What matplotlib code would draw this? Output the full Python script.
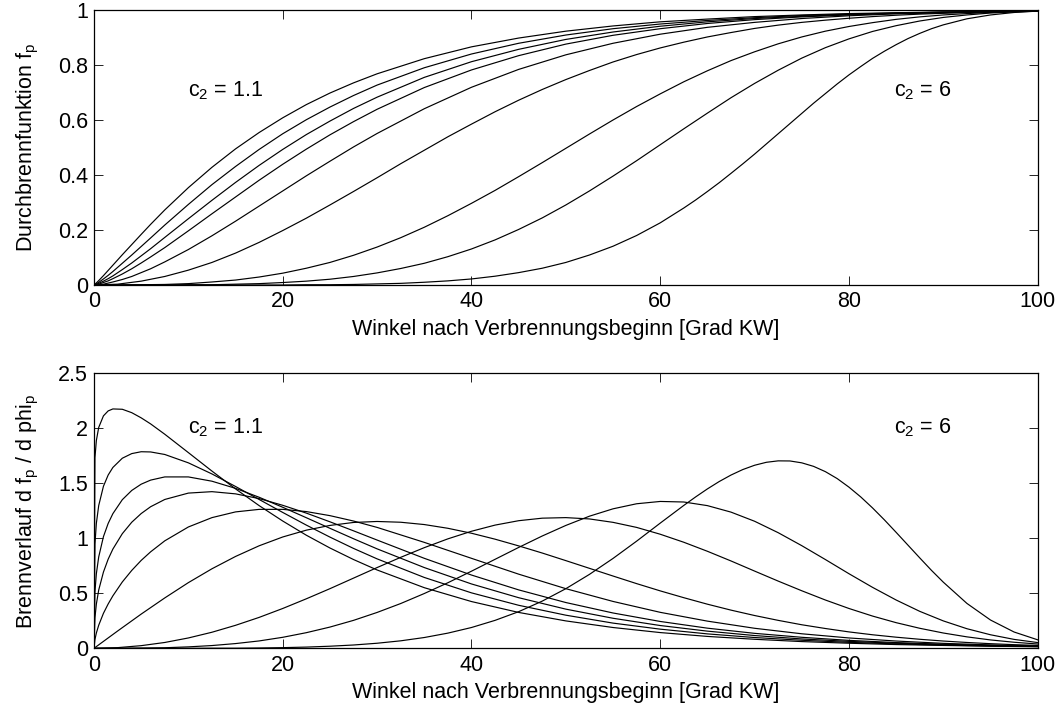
import matplotlib
matplotlib.use("Agg")
import matplotlib.pyplot as plt

plt.rcParams['font.family'] = ['Liberation Sans', 'DejaVu Sans']
plt.rcParams['mathtext.fontset'] = 'custom'
plt.rcParams['mathtext.rm'] = 'Liberation Sans'
plt.rcParams['mathtext.it'] = 'Liberation Sans'

FS = 15.5

# crank angle after start of combustion [deg CA]
# grid used for the flat-start exponents c2 = 1.1 ... 1.6
phi_a = [0, 0.1, 0.25, 0.5, 1, 1.5, 2, 3, 4, 5, 6, 7.5, 10, 12.5, 15, 17.5, 20, 22.5, 25,
         27.5, 30, 35, 40, 45, 50, 55, 60, 65, 70, 75, 80, 85, 90, 95, 100]
# grid used for c2 = 2 ... 4
phi_b = [0, 2.5, 5, 7.5, 10, 12.5, 15, 17.5, 20, 22.5, 25, 27.5, 30, 32.5, 35, 37.5, 40,
         42.5, 45, 47.5, 50, 52.5, 55, 57.5, 60, 62.5, 65, 67.5, 70, 72.5, 75, 77.5, 80,
         82.5, 85, 87.5, 90, 92.5, 95, 97.5, 100]
# grid used for c2 = 6 (denser around the peak)
phi_c6 = [0, 2.5, 5, 7.5, 10, 12.5, 15, 17.5, 20, 22.5, 25, 27.5, 30, 32.5, 35, 37.5, 40,
          42.5, 45, 47.5, 50, 52.5, 55, 57.5, 60, 62.5, 63.75, 65, 66.25, 67.5, 68.75, 70,
          71.25, 72.5, 73.75, 75, 76.25, 77.5, 78.75, 80, 81.25, 82.5, 83.75, 85, 86.25, 87.5,
          88.75, 90, 92.5, 95, 97.5, 100]

# mass fraction burned f_p
fp_c1_1 = [0, 0.003, 0.0075, 0.016, 0.034, 0.053, 0.072, 0.110, 0.147, 0.184, 0.2205, 0.273,
           0.354, 0.428, 0.495, 0.5545, 0.608, 0.656, 0.698, 0.735, 0.768, 0.823, 0.866, 0.898,
           0.923, 0.942, 0.957, 0.967, 0.976, 0.982, 0.987, 0.990, 0.993, 0.994, 0.996]
fp_c1_2 = [0, 0.001, 0.004, 0.0095, 0.022, 0.035, 0.049, 0.079, 0.109, 0.140, 0.171, 0.218,
           0.293, 0.365, 0.431, 0.493, 0.550, 0.601, 0.647, 0.689, 0.727, 0.790, 0.840, 0.879,
           0.909, 0.932, 0.949, 0.962, 0.972, 0.980, 0.985, 0.989, 0.992, 0.994, 0.996]
fp_c1_3 = [0, 0.001, 0.002, 0.006, 0.014, 0.023, 0.033, 0.056, 0.080, 0.106, 0.132, 0.173,
           0.241, 0.308, 0.373, 0.435, 0.493, 0.547, 0.596, 0.642, 0.683, 0.755, 0.812, 0.857,
           0.893, 0.920, 0.941, 0.957, 0.969, 0.977, 0.984, 0.988, 0.992, 0.994, 0.996]
fp_c1_4 = [0, 0.000, 0.001, 0.003, 0.009, 0.015, 0.023, 0.040, 0.059, 0.080, 0.102, 0.136,
           0.197, 0.259, 0.320, 0.381, 0.439, 0.494, 0.546, 0.594, 0.639, 0.718, 0.782, 0.834,
           0.876, 0.908, 0.932, 0.951, 0.965, 0.975, 0.982, 0.988, 0.991, 0.994, 0.996]
fp_c1_6 = [0, 0.000, 0.000, 0.001, 0.003, 0.007, 0.011, 0.020, 0.031, 0.045, 0.059, 0.084,
           0.129, 0.179, 0.232, 0.287, 0.342, 0.397, 0.450, 0.502, 0.551, 0.641, 0.719, 0.784,
           0.837, 0.879, 0.912, 0.937, 0.955, 0.969, 0.979, 0.986, 0.990, 0.994, 0.996]
fp_c2 = [0, 0.003, 0.014, 0.031, 0.054, 0.082, 0.116, 0.155, 0.198, 0.243, 0.291, 0.340, 0.390,
         0.441, 0.490, 0.539, 0.585, 0.630, 0.672, 0.711, 0.747, 0.780, 0.811, 0.838, 0.862,
         0.883, 0.902, 0.918, 0.933, 0.945, 0.955, 0.963, 0.970, 0.976, 0.981, 0.985, 0.988,
         0.991, 0.993, 0.995, 0.996]
fp_c3 = [0, 0.000, 0.001, 0.002, 0.005, 0.011, 0.018, 0.029, 0.043, 0.061, 0.082, 0.108, 0.138,
         0.172, 0.210, 0.252, 0.297, 0.344, 0.394, 0.445, 0.497, 0.549, 0.600, 0.649, 0.695,
         0.739, 0.779, 0.816, 0.848, 0.877, 0.902, 0.923, 0.940, 0.954, 0.966, 0.975, 0.982,
         0.987, 0.991, 0.994, 0.996]
fp_c4 = [0, 0, 0, 0, 0.001, 0.001, 0.003, 0.005, 0.009, 0.014, 0.021, 0.031, 0.044, 0.060,
         0.079, 0.103, 0.131, 0.164, 0.202, 0.244, 0.291, 0.342, 0.396, 0.452, 0.510, 0.568,
         0.625, 0.681, 0.733, 0.781, 0.825, 0.863, 0.895, 0.922, 0.943, 0.960, 0.973, 0.982,
         0.989, 0.993, 0.996]
fp_c6 = [0, 0, 0, 0, 0, 0, 0, 0, 0.000, 0.001, 0.001, 0.002, 0.004, 0.006, 0.010, 0.015, 0.022,
         0.032, 0.045, 0.061, 0.082, 0.109, 0.141, 0.180, 0.226, 0.280, 0.309, 0.340, 0.372,
         0.406, 0.4405, 0.476, 0.513, 0.550, 0.587, 0.624, 0.661, 0.696, 0.731, 0.764, 0.7945,
         0.824, 0.850, 0.874, 0.896, 0.915, 0.932, 0.946, 0.968, 0.982, 0.991, 0.996]

# burn rate d f_p / d phi_p
dfp_c1_1 = [0, 1.733, 1.889, 2.008, 2.113, 2.158, 2.176, 2.173, 2.142, 2.095, 2.040, 1.946,
            1.779, 1.611, 1.449, 1.297, 1.157, 1.028, 0.912, 0.807, 0.712, 0.551, 0.425, 0.326,
            0.249, 0.189, 0.143, 0.108, 0.082, 0.061, 0.046, 0.034, 0.026, 0.019, 0.014]
dfp_c1_2 = [0, 0.948, 1.136, 1.298, 1.473, 1.575, 1.644, 1.728, 1.770, 1.787, 1.785, 1.762,
            1.686, 1.585, 1.471, 1.353, 1.235, 1.120, 1.011, 0.908, 0.813, 0.644, 0.504, 0.391,
            0.301, 0.229, 0.174, 0.131, 0.098, 0.073, 0.054, 0.040, 0.029, 0.021, 0.016]
dfp_c1_3 = [0, 0.515, 0.678, 0.831, 1.015, 1.135, 1.224, 1.351, 1.435, 1.492, 1.529, 1.558,
            1.558, 1.519, 1.454, 1.373, 1.282, 1.187, 1.091, 0.996, 0.904, 0.734, 0.585, 0.460,
            0.356, 0.273, 0.207, 0.156, 0.116, 0.085, 0.063, 0.046, 0.033, 0.024, 0.017]
dfp_c1_4 = [0, 0.278, 0.402, 0.530, 0.693, 0.810, 0.902, 1.042, 1.146, 1.225, 1.287, 1.353,
            1.411, 1.424, 1.404, 1.361, 1.300, 1.229, 1.150, 1.068, 0.984, 0.818, 0.666, 0.531,
            0.416, 0.321, 0.244, 0.183, 0.136, 0.100, 0.072, 0.052, 0.037, 0.026, 0.018]
dfp_c1_6 = [0, 0.080, 0.139, 0.210, 0.318, 0.403, 0.477, 0.603, 0.708, 0.799, 0.877, 0.977,
            1.103, 1.188, 1.240, 1.263, 1.263, 1.243, 1.206, 1.157, 1.099, 0.963, 0.818, 0.674,
            0.542, 0.426, 0.327, 0.247, 0.182, 0.132, 0.094, 0.066, 0.045, 0.031, 0.021]
dfp_c2 = [0, 0.157, 0.311, 0.458, 0.597, 0.723, 0.835, 0.932, 1.012, 1.074, 1.117, 1.144, 1.153,
          1.146, 1.125, 1.091, 1.046, 0.992, 0.931, 0.866, 0.797, 0.727, 0.657, 0.588, 0.522,
          0.460, 0.401, 0.347, 0.298, 0.254, 0.214, 0.180, 0.149, 0.123, 0.101, 0.082, 0.066,
          0.053, 0.042, 0.033, 0.026]
dfp_c3 = [0, 0.006, 0.024, 0.053, 0.094, 0.146, 0.209, 0.281, 0.362, 0.450, 0.542, 0.638, 0.734,
          0.827, 0.915, 0.995, 1.064, 1.120, 1.160, 1.183, 1.188, 1.176, 1.145, 1.099, 1.037,
          0.964, 0.882, 0.794, 0.702, 0.611, 0.523, 0.439, 0.362, 0.293, 0.233, 0.182, 0.139,
          0.104, 0.076, 0.055, 0.039]
dfp_c4 = [0, 0.000, 0.002, 0.005, 0.013, 0.025, 0.043, 0.067, 0.100, 0.142, 0.193, 0.254, 0.326,
          0.407, 0.498, 0.596, 0.701, 0.809, 0.917, 1.021, 1.117, 1.201, 1.268, 1.314, 1.335,
          1.330, 1.297, 1.238, 1.155, 1.051, 0.933, 0.807, 0.678, 0.554, 0.439, 0.336, 0.249,
          0.178, 0.123, 0.081, 0.052]
dfp_c6 = [0, 0, 0, 0, 0.000, 0.001, 0.001, 0.003, 0.006, 0.011, 0.019, 0.030, 0.046, 0.068,
          0.098, 0.138, 0.189, 0.254, 0.333, 0.429, 0.542, 0.672, 0.817, 0.974, 1.138, 1.299,
          1.376, 1.449, 1.516, 1.575, 1.625, 1.664, 1.691, 1.704, 1.703, 1.686, 1.654, 1.606,
          1.543, 1.465, 1.376, 1.276, 1.168, 1.054, 0.938, 0.822, 0.708, 0.601, 0.408, 0.257,
          0.148, 0.077]

curves_fp = [(phi_a, fp_c1_1), (phi_a, fp_c1_2), (phi_a, fp_c1_3), (phi_a, fp_c1_4),
             (phi_a, fp_c1_6), (phi_b, fp_c2), (phi_b, fp_c3), (phi_b, fp_c4), (phi_c6, fp_c6)]
curves_dfp = [(phi_a, dfp_c1_1), (phi_a, dfp_c1_2), (phi_a, dfp_c1_3), (phi_a, dfp_c1_4),
              (phi_a, dfp_c1_6), (phi_b, dfp_c2), (phi_b, dfp_c3), (phi_b, dfp_c4),
              (phi_c6, dfp_c6)]

xticks = [0, 20, 40, 60, 80, 100]
yticks_top = [0, 0.2, 0.4, 0.6, 0.8, 1]
ytick_labels_top = ['0', '0.2', '0.4', '0.6', '0.8', '1']
yticks_bot = [0, 0.5, 1, 1.5, 2, 2.5]
ytick_labels_bot = ['0', '0.5', '1', '1.5', '2', '2.5']

W, H = 1059, 709
fig = plt.figure(figsize=(W / 100, H / 100), dpi=100)
ax_w = (1037.7 - 94) / W
ax1 = fig.add_axes([94 / W, 1 - 285 / H, ax_w, 275 / H])
ax2 = fig.add_axes([94 / W, 1 - 648.3 / H, ax_w, 275 / H])

xlabel = 'Winkel nach Verbrennungsbeginn [Grad KW]'


def style(ax, yticks, ylabels, ymax):
    ax.set_xlim(0, 100)
    ax.set_ylim(0, ymax)
    ax.set_xticks(xticks)
    ax.set_xticklabels([str(t) for t in xticks])
    ax.set_yticks(yticks)
    ax.set_yticklabels(ylabels)
    ax.tick_params(direction='in', top=True, right=True, length=6.5, width=0.6,
                   labelsize=FS, colors='black')
    ax.tick_params(axis='x', pad=4.5)
    ax.tick_params(axis='y', pad=4.3)
    for s in ax.spines.values():
        s.set_linewidth(0.9)
    ax.set_xlabel(xlabel, fontsize=FS)
    ax.xaxis.set_label_coords(0.5, -0.122)


for x, y in curves_fp:
    ax1.plot(x, y, color='black', lw=0.85)
for x, y in curves_dfp:
    ax2.plot(x, y, color='black', lw=0.85)

style(ax1, yticks_top, ytick_labels_top, 1)
style(ax2, yticks_bot, ytick_labels_bot, 2.5)

ax1.set_ylabel(r'Durchbrennfunktion f$_\mathregular{p}$', fontsize=FS)
ax2.set_ylabel(r'Brennverlauf d f$_\mathregular{p}$ / d phi$_\mathregular{p}$', fontsize=FS)
ax1.yaxis.set_label_coords(-0.056, 0.5)
ax2.yaxis.set_label_coords(-0.056, 0.5)

ax1.text(10.0, 0.684, r'c$_\mathregular{2}$ = 1.1', fontsize=FS, va='baseline')
ax1.text(84.8, 0.684, r'c$_\mathregular{2}$ = 6', fontsize=FS, va='baseline')
ax2.text(10.0, 1.956, r'c$_\mathregular{2}$ = 1.1', fontsize=FS, va='baseline')
ax2.text(84.8, 1.956, r'c$_\mathregular{2}$ = 6', fontsize=FS, va='baseline')

fig.savefig('out.png', dpi=100, facecolor='white')
